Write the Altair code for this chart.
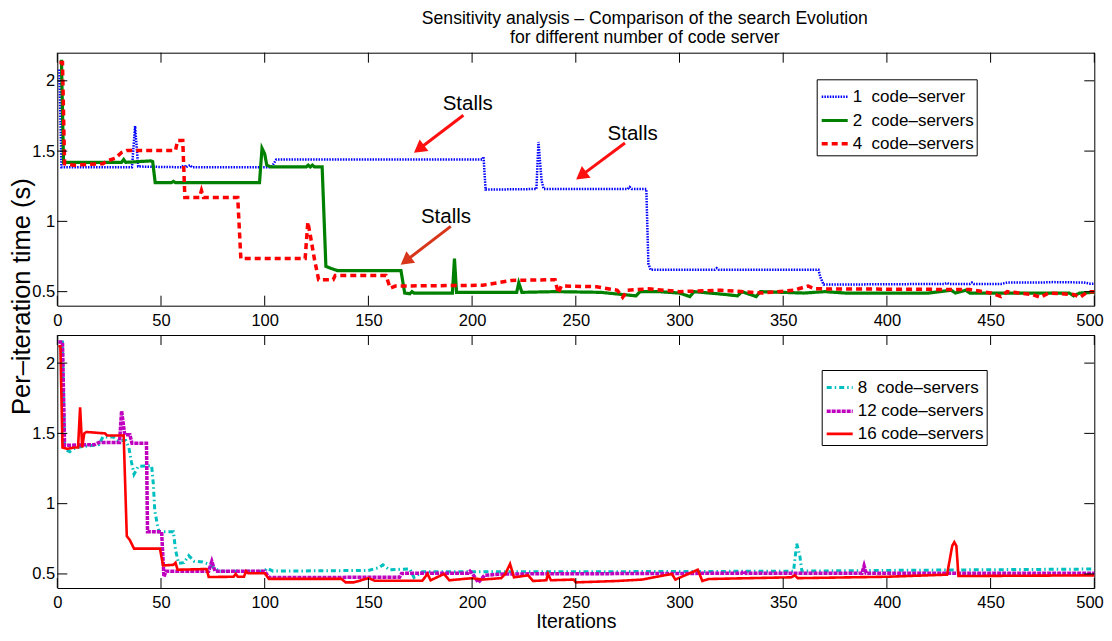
import altair as alt
import pandas as pd

FONT = "Liberation Sans"

# ---------------- data ----------------
x_ticks = [0, 50, 100, 150, 200, 250, 300, 350, 400, 450, 500]
y_ticks = [0.5, 1.0, 1.5, 2.0]

title_lines = ["Sensitivity analysis \u2013 Comparison of the search Evolution",
               "for different number of code server"]

top_names = ["1\u00a0\u00a0code\u2013server", "2\u00a0\u00a0code\u2013servers", "4\u00a0\u00a0code\u2013servers"]
bottom_names = ["8\u00a0\u00a0code\u2013servers", "12\u00a0code\u2013servers", "16\u00a0code\u2013servers"]

# (iteration, seconds) breakpoints
s1 = [(1, 2.08), (2, 1.385), (36, 1.385), (37.5, 1.677), (39, 1.39), (60, 1.385), (61, 1.40),
      (62, 1.385), (64, 1.40), (65, 1.385), (103, 1.385), (104.3, 1.41), (105.6, 1.44), (205, 1.44),
      (205.5, 1.46), (206.5, 1.226), (231, 1.23), (232, 1.565), (233.5, 1.29), (234.5, 1.23),
      (275, 1.23), (276, 1.245), (277, 1.23), (284, 1.23), (285, 0.70), (286, 0.656), (317, 0.656),
      (318, 0.667), (319, 0.656), (367, 0.656), (368, 0.60), (369.5, 0.55), (428, 0.555),
      (429, 0.562), (430, 0.555), (440, 0.555), (441, 0.565), (442, 0.555), (455, 0.555),
      (458, 0.565), (475, 0.565), (480, 0.568), (495, 0.565), (498, 0.556), (500, 0.556)]

s2 = [(2, 2.15), (3, 1.42), (31, 1.42), (32, 1.44), (33, 1.42), (45, 1.43), (46, 1.425),
      (47.2, 1.275), (55, 1.275), (56, 1.285), (57, 1.275), (97.5, 1.275), (98.7, 1.52), (100, 1.48),
      (101, 1.40), (103, 1.387), (120, 1.387), (121, 1.40), (122, 1.387), (123, 1.40), (124, 1.387),
      (127.7, 1.387), (129.5, 0.68), (132, 0.665), (135, 0.65), (165.7, 0.65), (167.5, 0.49),
      (170, 0.485), (171, 0.50), (172, 0.49), (190.5, 0.49), (191.5, 0.735), (192.5, 0.495),
      (221.5, 0.495), (222.5, 0.563), (224, 0.495), (240, 0.50), (262, 0.495), (279, 0.47),
      (281, 0.50), (290, 0.50), (300, 0.49), (305, 0.465), (307, 0.50), (322, 0.48), (328, 0.47),
      (330, 0.50), (337, 0.465), (339, 0.50), (360, 0.49), (370, 0.50), (380, 0.49), (420, 0.49),
      (431, 0.51), (433, 0.49), (438, 0.51), (440, 0.49), (488, 0.49), (490, 0.47), (493, 0.49),
      (500, 0.495)]

s4 = [(1, 2.13), (2.5, 2.13), (3.5, 1.41), (8, 1.40), (22, 1.41), (24, 1.43), (28, 1.45),
      (31, 1.49), (33.5, 1.505), (57, 1.505), (58, 1.575), (60.5, 1.575), (61.5, 1.17), (68.5, 1.17),
      (69.5, 1.22), (70.5, 1.17), (87, 1.17), (88.5, 0.735), (119.5, 0.735), (120.8, 0.995),
      (122, 0.90), (124, 0.73), (126, 0.585), (133, 0.585), (134, 0.615), (158.5, 0.615),
      (160.5, 0.525), (163, 0.54), (205, 0.545), (219, 0.58), (240, 0.585), (241.5, 0.49),
      (243, 0.54), (260, 0.535), (270, 0.51), (272.6, 0.46), (275, 0.51), (285, 0.52), (300, 0.50),
      (320, 0.51), (340, 0.49), (355, 0.51), (362, 0.54), (365, 0.52), (440, 0.515), (450, 0.49),
      (455, 0.465), (458, 0.50), (470, 0.48), (474, 0.46), (478, 0.49), (490, 0.48), (493, 0.46),
      (497, 0.50), (500, 0.50)]

s8 = [(1, 2.15), (2.5, 2.15), (3.5, 1.39), (6, 1.37), (9, 1.40), (20, 1.42), (22, 1.475),
      (27, 1.475), (29, 1.45), (33, 1.45), (34.5, 1.40), (35.7, 1.30), (37, 1.21), (39, 1.265),
      (45.5, 1.27), (46.3, 1.14), (47, 0.95), (48, 0.87), (49, 0.80), (56, 0.80), (57, 0.67),
      (58.5, 0.575), (61, 0.58), (63.4, 0.63), (66, 0.59), (70, 0.585), (73, 0.57), (75, 0.55),
      (78, 0.52), (100, 0.52), (101, 0.54), (104, 0.52), (150, 0.525), (155, 0.545), (157, 0.565),
      (160, 0.53), (170, 0.535), (172, 0.475), (176, 0.515), (200, 0.515), (300, 0.517),
      (355, 0.52), (356.5, 0.715), (358, 0.63), (359, 0.52), (400, 0.525), (450, 0.53), (500, 0.535)]

s12 = [(0.5, 2.15), (2.5, 2.15), (3.5, 1.415), (18, 1.42), (20, 1.435), (30, 1.435), (31, 1.66),
       (32.5, 1.49), (35, 1.49), (36, 1.43), (43, 1.43), (43.5, 0.80), (50.3, 0.80), (51.4, 0.48),
       (52.5, 0.52), (73, 0.52), (74.5, 0.59), (76, 0.52), (100, 0.52), (102, 0.475), (165, 0.476),
       (166, 0.504), (198, 0.505), (199, 0.52), (200, 0.505), (203, 0.44), (206, 0.49), (215, 0.50),
       (330, 0.505), (331, 0.52), (332, 0.505), (388, 0.505), (389, 0.558), (390, 0.505), (500, 0.505)]

s16 = [(0.5, 2.12), (1.5, 2.12), (2.5, 1.40), (5, 1.39), (8, 1.40), (10, 1.40), (11, 1.686),
       (12, 1.40), (13, 1.50), (14, 1.51), (23, 1.50), (24, 1.485), (32, 1.485), (33.5, 0.77),
       (35, 0.74), (37, 0.68), (49.5, 0.68), (51, 0.56), (56, 0.565), (57, 0.58), (58, 0.53),
       (72, 0.535), (73, 0.478), (85, 0.48), (86, 0.50), (87, 0.48), (90, 0.48), (91, 0.52),
       (92, 0.505), (100, 0.505), (102, 0.465), (137, 0.465), (139, 0.44), (143, 0.44), (150, 0.47),
       (153, 0.452), (176, 0.452), (178.5, 0.50), (180, 0.455), (186.5, 0.50), (189, 0.455),
       (200, 0.47), (205, 0.46), (214, 0.47), (216, 0.50), (218.3, 0.571), (220.2, 0.476),
       (227, 0.49), (229.4, 0.45), (235.8, 0.455), (236.6, 0.50), (238, 0.455), (249, 0.46),
       (250, 0.44), (270, 0.45), (282, 0.46), (296.3, 0.50), (298, 0.46), (308.8, 0.53), (311, 0.45),
       (314, 0.464), (354, 0.476), (355.6, 0.49), (357, 0.47), (400, 0.48), (429, 0.495),
       (431.5, 0.70), (432.5, 0.726), (433.5, 0.70), (434.5, 0.485), (500, 0.49)]

# annotations: label position, arrow start, arrow head centre (iteration, seconds)
stall_text_it = [197.9, 277.4, 187.4]
stall_text_v = [1.834, 1.62, 1.031]
arrow_start_it = [195.8, 273.7, 189.7]
arrow_start_v = [1.755, 1.558, 0.964]
arrow_head_it = [175.2, 253.4, 168.8]
arrow_head_v = [1.524, 1.334, 0.728]
arrow_kind = ["a", "a", "b"]

# ---------------- styles ----------------
top_colors = ["#0000ff", "#008000", "#ff0000"]
top_dash = [[1.5, 1.2], [1, 0], [6, 4]]
top_width = [2.5, 3.2, 3.5]
bot_colors = ["#00bfbf", "#bf00bf", "#ff0000"]
bot_dash = [[5, 3, 1.5, 3], [4, 1], [1, 0]]
bot_width = [3, 3.5, 2.6]

W, H = 1037, 253
GAP = 29.3

def frame(names, series):
    rows = []
    for n, pts in zip(names, series):
        for a, b in pts:
            rows.append({"series": n, "it": a, "v": b})
    return pd.DataFrame(rows)

top_df = frame(top_names, [s1, s2, s4])
bot_df = frame(bottom_names, [s8, s12, s16])
xt_df = pd.DataFrame({"it": x_ticks})
yt_df = pd.DataFrame({"v": y_ticks})

xs = alt.Scale(domain=[0, 500], nice=False, zero=False)
ys = alt.Scale(domain=[0.4, 2.2], nice=False, zero=False)


def tick_layers():
    r = dict(color="black", strokeWidth=1)
    return [
        alt.Chart(xt_df).mark_rule(**r).encode(x=alt.X("it:Q", scale=xs), y=alt.value(H), y2=alt.value(H - 10)),
        alt.Chart(xt_df).mark_rule(**r).encode(x=alt.X("it:Q", scale=xs), y=alt.value(0), y2=alt.value(10)),
        alt.Chart(yt_df).mark_rule(**r).encode(y=alt.Y("v:Q", scale=ys), x=alt.value(0), x2=alt.value(10)),
        alt.Chart(yt_df).mark_rule(**r).encode(y=alt.Y("v:Q", scale=ys), x=alt.value(W), x2=alt.value(W - 10)),
    ]


def lines(df, names, colors, dashes, widths, lx, ly, xaxis, yaxis):
    leg = alt.Legend(title=None, orient="none", legendX=lx, legendY=ly, strokeColor="black",
                     fillColor="white", padding=3, labelFont=FONT, labelFontSize=17,
                     labelColor="black", symbolSize=676, symbolType="stroke", rowPadding=0.2,
                     labelOffset=3, labelLimit=400)
    return alt.Chart(df).mark_line(strokeCap="butt", strokeJoin="miter").encode(
        x=alt.X("it:Q", scale=xs, axis=xaxis),
        y=alt.Y("v:Q", scale=ys, axis=yaxis),
        color=alt.Color("series:N", scale=alt.Scale(domain=names, range=colors), legend=leg),
        strokeDash=alt.StrokeDash("series:N", scale=alt.Scale(domain=names, range=dashes), legend=leg),
        strokeWidth=alt.StrokeWidth("series:N", scale=alt.Scale(type="ordinal", domain=names, range=widths), legend=leg),
    )


last_align = {"condition": {"test": "datum.value === 500", "value": "right"}, "value": "center"}
last_offset = {"condition": {"test": "datum.value === 500", "value": 9}, "value": 0}

x_axis_top = alt.Axis(values=x_ticks, format="d", title=None, labelFlush=False,
                      labelAlign=last_align, labelOffset=last_offset)
x_axis_bot = alt.Axis(values=x_ticks, format="d", title="Iterations", labelFlush=False,
                      labelAlign=last_align, labelOffset=last_offset,
                      titleFontSize=19.5, titleBaseline="alphabetic", titleY=39)
y_axis_top = alt.Axis(values=y_ticks, format=".2~f", title="Per\u2013iteration time (s)",
                      titleFontSize=25.5, titleAngle=270, titleBaseline="middle", titleAlign="center",
                      titleX=-35.8, titleY=243.5, labelFlush=False)
y_axis_bot = alt.Axis(values=y_ticks, format=".2~f", title=None, labelFlush=False)

ann = pd.DataFrame({"it": stall_text_it, "v": stall_text_v, "label": ["Stalls"] * 3})
arr = pd.DataFrame({"it": arrow_start_it, "v": arrow_start_v, "it2": arrow_head_it,
                    "v2": arrow_head_v, "kind": arrow_kind})
heads = pd.DataFrame({"it": arrow_head_it, "v": arrow_head_v, "kind": arrow_kind})

ann_layers = [alt.Chart(ann).mark_text(font=FONT, fontSize=20.5, color="black", align="center",
                                       baseline="middle").encode(
    x=alt.X("it:Q", scale=xs), y=alt.Y("v:Q", scale=ys), text="label:N")]
for kind, col in [("a", "#ff1010"), ("b", "#d8361a")]:
    ann_layers.append(alt.Chart(arr).transform_filter(alt.datum.kind == kind).mark_rule(
        color=col, strokeWidth=3, strokeCap="butt").encode(
        x=alt.X("it:Q", scale=xs), y=alt.Y("v:Q", scale=ys), x2="it2:Q", y2="v2:Q"))
    ann_layers.append(alt.Chart(heads).transform_filter(alt.datum.kind == kind).mark_point(
        shape="triangle", filled=True, size=210, angle=233, color=col, opacity=1, strokeWidth=0).encode(
        x=alt.X("it:Q", scale=xs), y=alt.Y("v:Q", scale=ys)))

top = alt.layer(
    lines(top_df, top_names, top_colors, top_dash, top_width, 759.4, 26.6, x_axis_top, y_axis_top),
    *tick_layers(), *ann_layers,
).properties(
    width=W, height=H,
    title=alt.TitleParams(text=title_lines, font=FONT, fontSize=17.6, fontWeight="normal",
                          color="black", anchor="middle", dx=69, dy=16.5, offset=8, lineHeight=19.5,
                          baseline="alphabetic", frame="group"),
)

bottom = alt.layer(
    lines(bot_df, bottom_names, bot_colors, bot_dash, bot_width, 764.4, 35, x_axis_bot, y_axis_bot),
    *tick_layers(),
).properties(width=W, height=H)

SVG_W, SVG_H = 1096, 624
PAD_L, PAD_T = 49.3, 44.7

# with autosize "none" the vconcat view reports the panel width but zero height
chart = alt.vconcat(top, bottom, spacing=GAP, bounds="flush").resolve_scale(
    color="independent", strokeDash="independent", strokeWidth="independent"
).properties(
    autosize=alt.AutoSizeParams(type="none"),
    padding={"left": PAD_L, "top": PAD_T, "right": SVG_W - PAD_L - W, "bottom": SVG_H - PAD_T},
    background="white",
).configure_view(stroke="black", strokeWidth=1).configure_axis(
    domain=False, ticks=False, tickSize=0, grid=False, labelFont=FONT, labelFontSize=16.5,
    labelColor="black", titleFont=FONT, titleColor="black", titleFontWeight="normal",
    labelOverlap=False,
).configure_axisX(labelPadding=6.5).configure_axisY(labelPadding=2.5)

chart.save("out.html", embed_options={"renderer": "svg", "actions": False})
